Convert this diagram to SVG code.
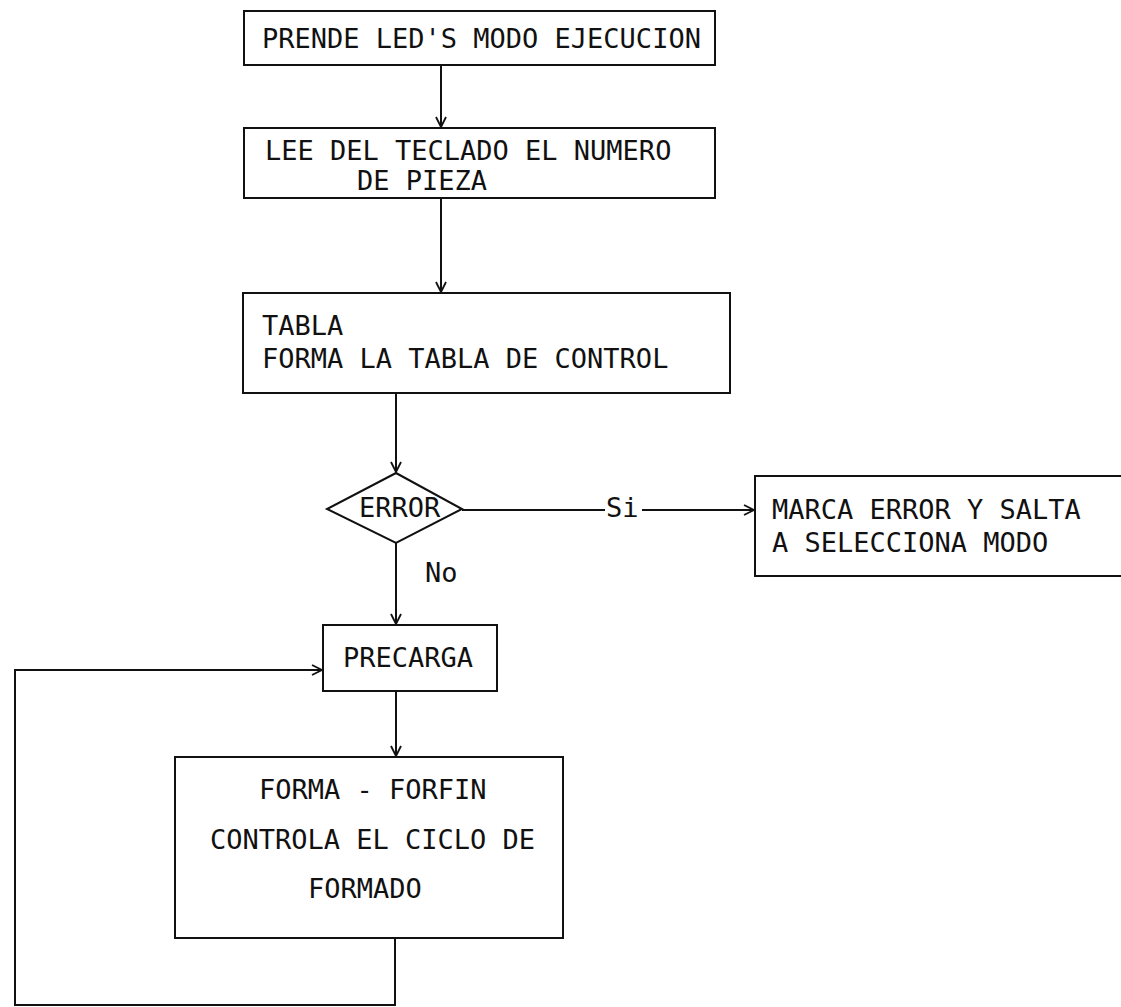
<svg xmlns="http://www.w3.org/2000/svg" width="1121" height="1007" viewBox="0 0 1121 1007">
<style>
.box{fill:none;stroke:#111;stroke-width:2}
.ln{fill:none;stroke:#111;stroke-width:2}
.t{font-family:"DejaVu Sans Mono","Liberation Mono",monospace;font-size:27px;fill:#111}
</style>
<defs>
<marker id="arr" viewBox="0 0 12 12" refX="11" refY="6" markerWidth="12" markerHeight="12" markerUnits="userSpaceOnUse" orient="auto">
<path d="M1,1 L11,6 L1,11" fill="none" stroke="#111" stroke-width="1.8"/>
</marker>
</defs>
<rect width="1121" height="1007" fill="#fff"/>
<g id="n1"><rect class="box" x="244" y="11" width="471" height="54"/><text class="t" x="262" y="48">PRENDE LED'S MODO EJECUCION</text></g>
<g id="n2"><rect class="box" x="244" y="128" width="471" height="70"/><text class="t" x="265" y="160">LEE DEL TECLADO EL NUMERO</text><text class="t" x="357" y="190">DE PIEZA</text></g>
<g id="n3"><rect class="box" x="243" y="293" width="487" height="100"/><text class="t" x="262" y="335">TABLA</text><text class="t" x="262" y="368">FORMA LA TABLA DE CONTROL</text></g>
<g id="n4"><polygon class="box" points="396,473 462,509 396,543 327,509"/><text class="t" x="359" y="517">ERROR</text></g>
<g id="n5"><rect class="box" x="755" y="476" width="380" height="100"/><text class="t" x="772" y="519">MARCA ERROR Y SALTA</text><text class="t" x="772" y="552">A SELECCIONA MODO</text></g>
<g id="n6"><rect class="box" x="323" y="625" width="174" height="66"/><text class="t" x="343" y="667">PRECARGA</text></g>
<g id="n7"><rect class="box" x="175" y="757" width="388" height="181"/><text class="t" x="259" y="799">FORMA - FORFIN</text><text class="t" x="210" y="849">CONTROLA EL CICLO DE</text><text class="t" x="308" y="898">FORMADO</text></g>
<g id="connectors">
<line class="ln" x1="441" y1="65" x2="441" y2="127" marker-end="url(#arr)"/>
<line class="ln" x1="441" y1="198" x2="441" y2="292" marker-end="url(#arr)"/>
<line class="ln" x1="396" y1="393" x2="396" y2="472" marker-end="url(#arr)"/>
<line class="ln" x1="462" y1="510" x2="605" y2="510"/>
<line class="ln" x1="642" y1="510" x2="754" y2="510" marker-end="url(#arr)"/>
<text class="t" x="606" y="517">Si</text>
<line class="ln" x1="396" y1="543" x2="396" y2="624" marker-end="url(#arr)"/>
<text class="t" x="425" y="582">No</text>
<line class="ln" x1="396" y1="691" x2="396" y2="756" marker-end="url(#arr)"/>
<polyline class="ln" points="395,938 395,1005 15,1005 15,670 322,670" marker-end="url(#arr)"/>
</g>
</svg>
